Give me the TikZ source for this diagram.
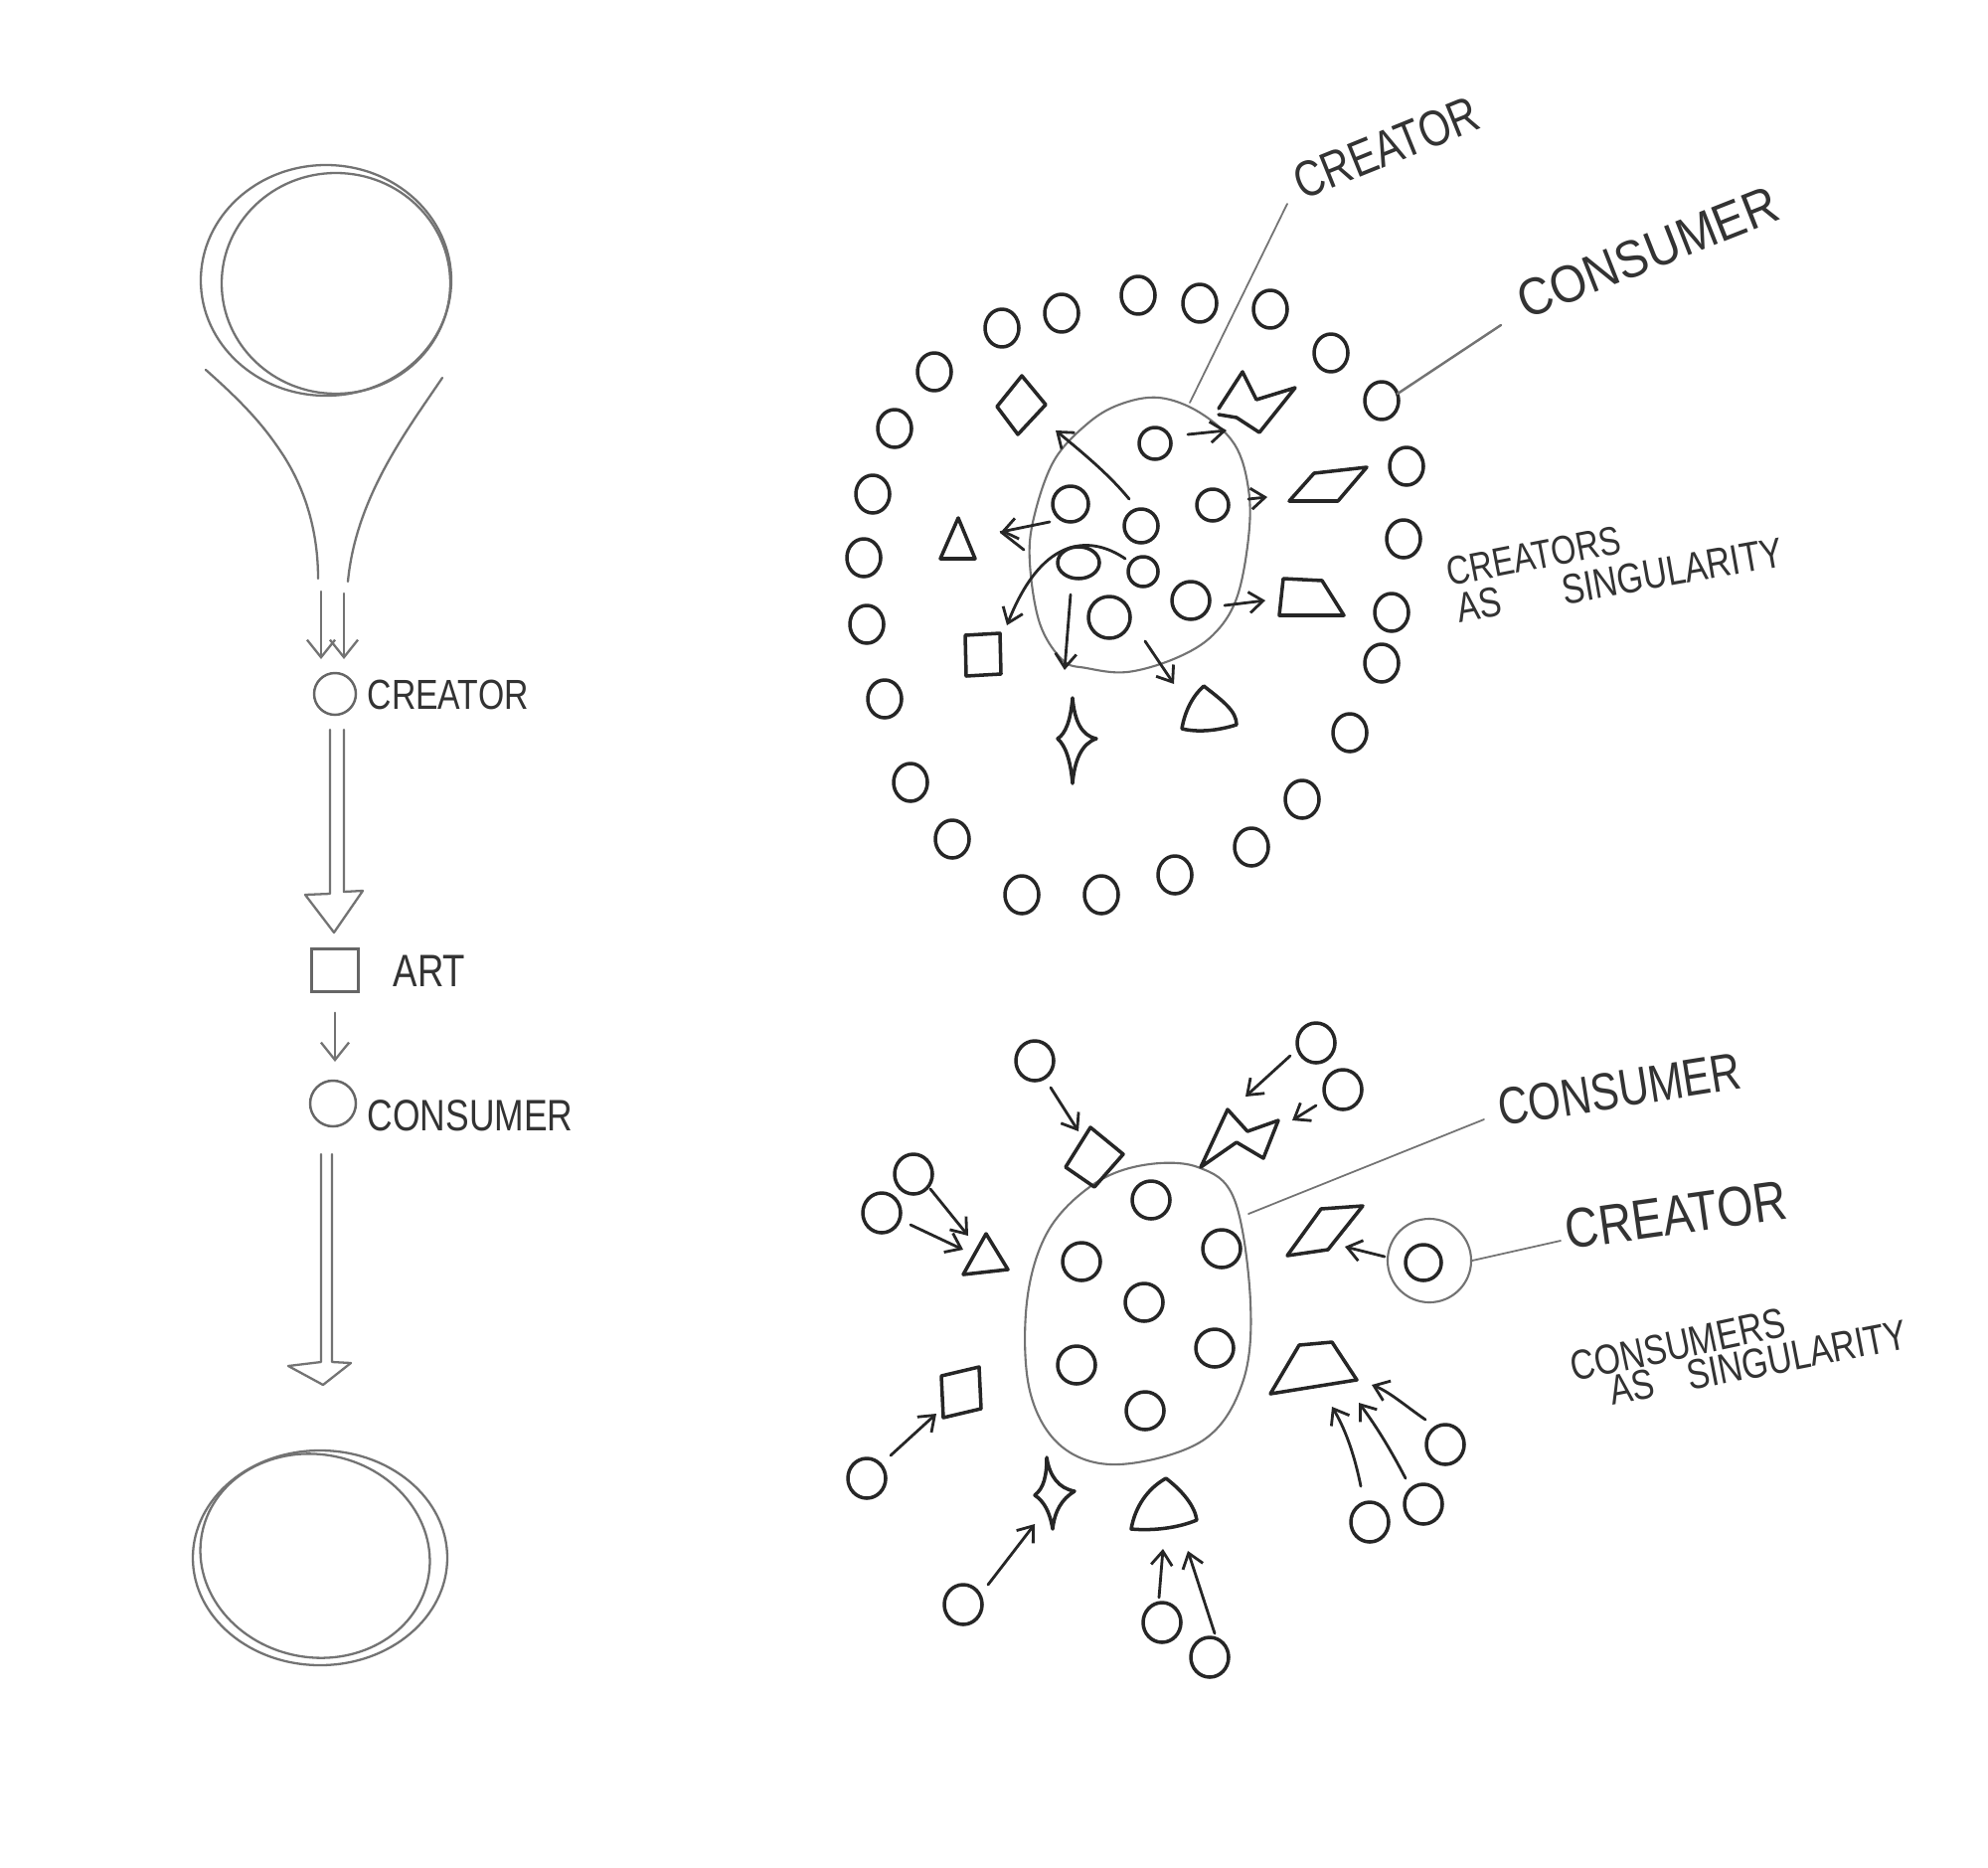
\documentclass[tikz,border=0pt]{standalone}
\usepackage{graphicx}
\usepackage{fontspec}
\setmainfont{Liberation Sans}
\newcommand\handtxt[1]{\scalebox{0.8}[1]{#1}}
\usetikzlibrary{arrows.meta}
\begin{document}
\begin{tikzpicture}[x=0.01cm,y=-0.01cm,
  pencil/.style={draw=black!55,line width=0.65pt,line cap=round,line join=round},
  ink/.style={draw=black!85,line width=1.0pt,line cap=round,line join=round},
  leader/.style={draw=black!55,line width=0.5pt,line cap=round},
  arr/.style={ink,line width=0.8pt,-{Straight Barb[length=4pt,width=6pt]}},
  parr/.style={pencil,-{Straight Barb[length=5pt,width=8pt]}},
  lbl/.style={inner sep=0pt,text=black!80,anchor=base west},
  pcirc/.style={circle,draw=black!60,line width=0.7pt,inner sep=0pt},
]
\useasboundingbox[fill=white] (0,0) rectangle (2000,1879);

% ================= LEFT COLUMN =================
\draw[pencil] (328,282) ellipse [x radius=126, y radius=116];
\draw[pencil] (338,285) ellipse [x radius=115, y radius=111];
\draw[pencil] (207,372) .. controls (250,410) and (268,432) .. (285,458) .. controls (310,497) and (320,540) .. (320,582);
\draw[pencil] (445,380) .. controls (410,432) and (358,500) .. (350,585);
\node[pcirc,minimum size=0.42cm] (lcre) at (337,698) {};
\coordinate (da1) at (323,595); \coordinate (da2) at (346,597);
\draw[parr] (da1) -- (323,663);
\draw[parr] (da2) -- (346,663);
\node[lbl,font=\fontsize{12}{12}\selectfont] (tlcre) at (369,713) {\handtxt{CREATOR}};
\draw[pencil] (332,734) -- (332,899) -- (307,900) -- (336,938) -- (365,896) -- (346,897) -- (346,734);
\node[draw=black!60,line width=0.7pt,minimum width=0.47cm,minimum height=0.43cm,inner sep=0pt] (lart) at (337,976) {};
\node[lbl,font=\fontsize{13}{13}\selectfont] (tlart) at (395,992) {\handtxt{ART}};
\draw[parr] (lart.south) ++(0,20) -- (lcre.south |- 0,1068);
\node[pcirc,minimum size=0.46cm] (lcon) at (335,1110) {};
\node[lbl,font=\fontsize{12.6}{12.6}\selectfont] (tlcon) at (369,1137) {\handtxt{CONSUMER}};
\draw[pencil] (323,1161) -- (323,1370) -- (290,1374) -- (325,1393) -- (353,1371) -- (334,1370) -- (334,1161);
\draw[pencil] (322,1567) ellipse [x radius=128, y radius=108];
\draw[pencil,rotate around={-12:(317,1565)}] (317,1565) ellipse [x radius=116, y radius=102];

% ================= TOP RIGHT: CREATORS AS SINGULARITY =================
\foreach \px/\py in {940/374,1008/330,1068/315,1145/297,1207/305,1278/311,1339/355,1390/403,1415/469,1412/542,1400/616,1390/667,1358/737,1310/804,1259/852,1182/880,1108/900,1028/900,958/844,916/787,890/703,872/628,869/561,878/497,900/431}
  \draw[ink] (\px,\py) ellipse [x radius=17, y radius=19];
% blob
\draw[leader,line width=0.6pt] plot[smooth cycle,tension=0.6] coordinates {(1166,400) (1207,415) (1242,447) (1256,492) (1256,541) (1244,602) (1220,639) (1183,662) (1134,676) (1093,672) (1069,664) (1046,627) (1036,566) (1040,521) (1060,464) (1093,427) (1126,407)};
% inner creators
\foreach \px/\py/\r in {1162/446/16,1077/507/18,1148/529/17,1220/508/16,1150/575/15,1116/621/21,1198/604/19}
  \draw[ink] (\px,\py) circle [radius=\r];
\draw[ink] (1085,566) ellipse [x radius=21, y radius=16];
% art shapes
\draw[ink] (1028,378) -- (1052,407) -- (1024,437) -- (1003,409) -- cycle;
\draw[ink] (1226,411) -- (1250,374) -- (1264,402) -- (1303,390) -- (1267,435) -- (1244,420) -- (1226,417);
\draw[ink] (1297,504) -- (1322,476) -- (1375,470) -- (1346,504) -- cycle;
\draw[ink] (1291,582) -- (1330,584) -- (1352,619) -- (1287,619) -- cycle;
\draw[ink] (1211,690) .. controls (1230,705) and (1244,715) .. (1244,729) .. controls (1225,735) and (1205,737) .. (1189,733) .. controls (1192,715) and (1200,700) .. (1211,690);
\draw[ink] (1079,702) .. controls (1081,725) and (1088,740) .. (1103,743) .. controls (1088,748) and (1081,765) .. (1079,788) .. controls (1077,765) and (1072,750) .. (1064,743) .. controls (1072,738) and (1077,725) .. (1079,702);
\draw[ink] (971,639) -- (1006,637) -- (1007,678) -- (972,680) -- cycle;
\draw[ink] (964,521) -- (981,562) -- (946,562) -- cycle;
% arrows out of the blob
\draw[arr] (1195,437) -- (1234,433);
\draw[arr] (1136,502) .. controls (1118,480) and (1095,460) .. (1062,433);
\draw[arr] (1256,502) -- (1275,500);
\draw[arr] (1056,525) -- (1007,535);
\draw[ink,line width=0.8pt] (1007,535) -- (1030,553);
\draw[arr] (1132,562) .. controls (1100,540) and (1050,535) .. (1013,629);
\draw[arr] (1077,598) -- (1071,674);
\draw[arr] (1152,645) -- (1181,688);
\draw[arr] (1232,609) -- (1273,604);
% leaders and labels
\coordinate (tcrel) at (1295,205);
\draw[leader] (1197,405) -- (tcrel);
\node[lbl,rotate=22,font=\fontsize{14.5}{14.5}\selectfont] (ttcre) at (1310,202) {\handtxt{CREATOR}};
\coordinate (tconl) at (1510,327);
\draw[leader,line width=0.7pt] (1406,396) -- (tconl);
\node[lbl,rotate=21.5,font=\fontsize{15}{15}\selectfont] (ttcon) at (1535,322) {\scalebox{0.9}[1]{CONSUMER}};
\node[lbl,rotate=11,font=\fontsize{11.5}{11.5}\selectfont] (ttcs1) at (1458,590) {\handtxt{CREATORS}};
\node[lbl,rotate=10,font=\fontsize{12}{12}\selectfont] (ttcs2) at (1468,627) {\handtxt{AS\hspace{22pt}SINGULARITY}};

% ================= BOTTOM RIGHT: CONSUMERS AS SINGULARITY =================
\draw[leader,line width=0.6pt] plot[smooth cycle,tension=0.6] coordinates {(1099,1192) (1150,1172) (1205,1174) (1242,1207) (1258,1310) (1250,1391) (1210,1449) (1126,1473) (1068,1455) (1036,1399) (1033,1310) (1054,1239)};
\foreach \px/\py in {1158/1207,1088/1269,1229/1256,1151/1310,1083/1373,1222/1356,1152/1419}
  \draw[ink] (\px,\py) circle [radius=19];
% art shapes
\draw[ink] (1072,1174) -- (1097,1134) -- (1130,1161) -- (1101,1194) -- cycle;
\draw[ink] (1208,1174) -- (1235,1116) -- (1255,1138) -- (1286,1127) -- (1271,1165) -- (1244,1149) -- cycle;
\draw[ink] (1295,1263) -- (1329,1216) -- (1371,1213) -- (1336,1257) -- cycle;
\draw[ink] (1307,1353) -- (1340,1350) -- (1365,1388) -- (1278,1402) -- cycle;
\draw[ink] (992,1241) -- (1014,1277) -- (969,1282) -- cycle;
\draw[ink] (947,1384) -- (985,1375) -- (987,1417) -- (949,1426) -- cycle;
\draw[ink] (1053,1466) .. controls (1056,1485) and (1065,1497) .. (1081,1500) .. controls (1068,1508) and (1061,1520) .. (1059,1538) .. controls (1056,1520) and (1050,1510) .. (1041,1504) .. controls (1050,1497) and (1053,1485) .. (1053,1466);
\draw[ink] (1173,1487) .. controls (1190,1500) and (1202,1515) .. (1204,1529) .. controls (1185,1537) and (1160,1540) .. (1138,1538) .. controls (1142,1515) and (1155,1497) .. (1173,1487);
% creator
\node[circle,draw=black!55,line width=0.6pt,minimum size=0.84cm,inner sep=0pt] (bcreo) at (1438,1268) {};
\draw[ink] (1432,1270) circle [radius=18];
\draw[arr] (bcreo.west) ++(-2,-4) -- (1353,1254);
% consumers with arrows
\foreach \px/\py in {1041/1067,1324/1049,1351/1096,919/1181,887/1220,872/1487,969/1614,1169/1632,1217/1667,1454/1453,1432/1513,1378/1531}
  \draw[ink] (\px,\py) ellipse [x radius=19, y radius=20];
\draw[arr] (1057,1094) -- (1085,1138);
\draw[arr] (1298,1062) -- (1253,1103);
\draw[arr] (1324,1112) -- (1300,1127);
\draw[arr] (936,1196) -- (974,1243);
\draw[arr] (916,1232) -- (969,1257);
\draw[arr] (896,1464) -- (942,1422);
\draw[arr] (994,1594) -- (1041,1533);
\draw[arr] (1166,1607) -- (1170,1558);
\draw[arr] (1222,1643) -- (1195,1560);
\draw[arr] (1369,1495) .. controls (1362,1460) and (1352,1435) .. (1340,1415);
\draw[arr] (1414,1487) .. controls (1400,1460) and (1385,1435) .. (1367,1411);
\draw[arr] (1434,1428) .. controls (1415,1415) and (1398,1400) .. (1380,1393);
% leaders and labels
\coordinate (bconl) at (1493,1126);
\draw[leader] (1256,1221) -- (bconl);
\node[lbl,rotate=9,font=\fontsize{15}{15}\selectfont] (tbcon) at (1510,1133) {\handtxt{CONSUMER}};
\coordinate (bcrel) at (1570,1248);
\draw[leader] (bcreo.east) -- (bcrel);
\node[lbl,rotate=8,font=\fontsize{16}{16}\selectfont] (tbcre) at (1577,1257) {\scalebox{0.83}[1]{CREATOR}};
\node[lbl,rotate=12,font=\fontsize{12}{12}\selectfont] (tbcs1) at (1583,1390) {\handtxt{CONSUMERS}};
\node[lbl,rotate=11,font=\fontsize{12}{12}\selectfont] (tbcs2) at (1622,1414) {\handtxt{AS\hspace{12pt}SINGULARITY}};
\end{tikzpicture}
\end{document}
